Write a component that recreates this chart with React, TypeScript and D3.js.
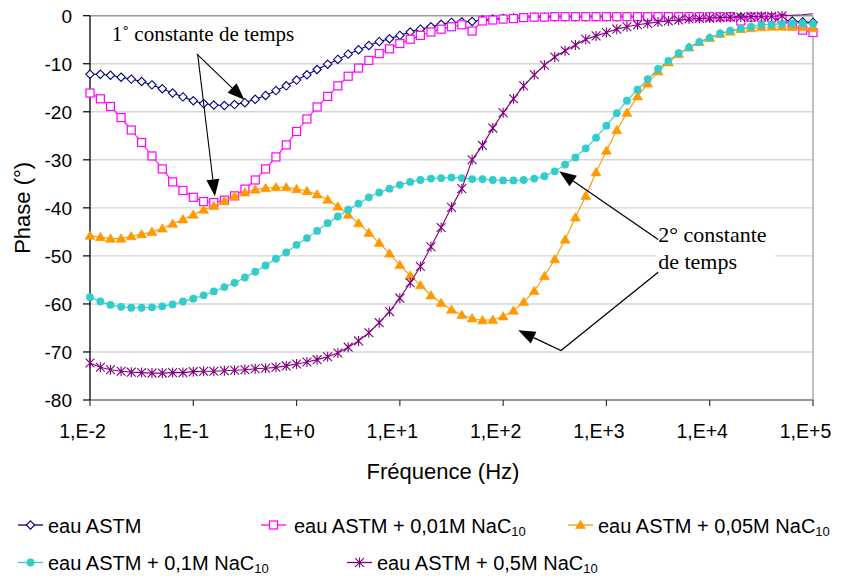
import React from 'react';
import * as d3 from 'd3';

const W = 841;
const H = 576;

const frequencies = [
  0.01, 0.0126, 0.0158, 0.02, 0.0251, 0.0316, 0.0398, 0.0501, 0.0631, 0.0794,
  0.1, 0.126, 0.158, 0.2, 0.251, 0.316, 0.398, 0.501, 0.631, 0.794,
  1, 1.26, 1.58, 2, 2.51, 3.16, 3.98, 5.01, 6.31, 7.94,
  10, 12.6, 15.8, 20, 25.1, 31.6, 39.8, 50.1, 63.1, 79.4,
  100, 126, 158, 200, 251, 316, 398, 501, 631, 794,
  1000, 1260, 1580, 2000, 2510, 3160, 3980, 5010, 6310, 7940,
  10000, 12600, 15800, 20000, 25100, 31600, 39800, 50100, 63100, 79400,
  100000,
];

const phaseAstm = [
  -12.2, -12.2, -12.4, -12.8, -13.2, -13.7, -14.4, -15.2, -16.1, -16.9,
  -17.7, -18.3, -18.6, -18.7, -18.5, -18.1, -17.4, -16.6, -15.6, -14.6,
  -13.4, -12.3, -11.2, -10.1, -9.1, -8.0, -7.1, -6.2, -5.4, -4.8,
  -4.1, -3.4, -2.8, -2.3, -1.8, -1.4, -1.3, -1.2, -0.9, -0.7,
  -0.6, -0.5, -0.4, -0.3, -0.3, -0.2, -0.2, -0.2, -0.2, -0.2,
  -0.2, -0.2, -0.2, -0.2, -0.2, -0.2, -0.2, -0.2, -0.2, -0.2,
  -0.2, -0.2, -0.2, -0.3, -0.4, -0.5, -0.7, -0.9, -1.1, -1.3,
  -1.4,
];

const phase001 = [
  -16.1, -17.3, -18.9, -21.2, -23.8, -26.4, -29.2, -31.9, -34.6, -36.4,
  -37.8, -38.7, -38.9, -38.4, -37.5, -36.1, -34.2, -31.9, -29.4, -26.9,
  -24.1, -21.5, -19.0, -16.8, -14.6, -12.6, -10.9, -9.3, -7.9, -6.9,
  -5.8, -4.9, -4.1, -3.4, -2.8, -2.3, -1.9, -3.2, -1.1, -0.9,
  -0.7, -0.6, -0.4, -0.3, -0.3, -0.2, -0.2, -0.2, -0.2, -0.2,
  -0.2, -0.2, -0.2, -0.2, -0.2, -0.2, -0.2, -0.2, -0.2, -0.2,
  -0.2, -0.2, -0.2, -1.1, -0.3, -0.3, -0.4, -0.6, -2.1, -3.0,
  -3.5,
];

const phase005 = [
  -45.8, -46.1, -46.4, -46.4, -45.9, -45.5, -45.0, -44.3, -43.3, -42.4,
  -41.4, -40.4, -39.6, -38.6, -37.6, -36.8, -36.2, -35.9, -35.7, -35.7,
  -36.1, -36.5, -37.2, -38.3, -39.7, -41.4, -43.2, -45.2, -47.3, -49.5,
  -51.9, -54.1, -56.1, -58.2, -59.8, -61.2, -62.3, -63.0, -63.4, -63.3,
  -62.6, -61.4, -59.6, -57.3, -54.2, -50.7, -46.6, -42.0, -37.5, -32.6,
  -28.1, -23.8, -20.2, -16.8, -14.1, -11.6, -9.7, -8.0, -6.6, -5.5,
  -4.6, -3.8, -3.3, -2.8, -2.6, -2.4, -2.3, -2.3, -2.3, -2.4,
  -2.6,
];

const phase01 = [
  -58.6, -59.5, -60.2, -60.6, -60.8, -60.8, -60.7, -60.5, -60.1, -59.5,
  -58.9, -58.2, -57.4, -56.5, -55.6, -54.5, -53.3, -52.0, -50.6, -49.3,
  -47.7, -46.3, -44.8, -43.2, -41.8, -40.4, -39.1, -37.8, -36.8, -36.0,
  -35.2, -34.6, -34.2, -33.9, -33.8, -33.7, -33.8, -34.0, -34.0, -34.2,
  -34.3, -34.3, -34.2, -33.9, -33.4, -32.4, -31.0, -29.5, -27.6, -25.4,
  -22.9, -20.3, -17.7, -15.4, -13.2, -11.1, -9.4, -7.8, -6.6, -5.5,
  -4.6, -3.7, -3.1, -2.7, -2.3, -1.9, -1.8, -1.7, -1.6, -1.6,
  -1.7,
];

const phase05 = [
  -72.3, -73.2, -73.7, -74.0, -74.2, -74.3, -74.4, -74.4, -74.3, -74.3,
  -74.1, -74.0, -74.0, -73.9, -73.8, -73.7, -73.5, -73.4, -73.2, -72.9,
  -72.5, -72.1, -71.6, -71.0, -70.2, -69.0, -67.7, -66.0, -63.9, -61.6,
  -58.8, -55.6, -52.2, -48.1, -44.1, -39.9, -36.0, -30.0, -27.0, -23.4,
  -20.2, -17.3, -14.6, -12.3, -10.3, -8.6, -7.3, -6.1, -4.9, -4.2,
  -3.5, -2.8, -2.3, -1.9, -1.6, -1.3, -1.1, -0.9, -0.7, -0.6,
  -0.5, -0.4, -0.3, -0.3, -0.2, -0.1, -0.1, 0.0, 0.1, 0.2,
  0.4,
];

const seriesNames = [
  'eau ASTM',
  'eau ASTM + 0,01M NaC',
  'eau ASTM + 0,05M NaC',
  'eau ASTM + 0,1M NaC',
  'eau ASTM + 0,5M NaC',
];
const seriesSubs = ['', '10', '10', '10', '10'];
const seriesColors = ['#000080', '#FF00FF', '#FF9900', '#33CCCC', '#800080'];
const seriesMarkers = ['diamond', 'square', 'triangle', 'circle', 'star'];
const seriesValues = [phaseAstm, phase001, phase005, phase01, phase05];

const xTickValues = [1e-2, 1e-1, 1e0, 1e1, 1e2, 1e3, 1e4, 1e5];
const xTickLabels = ['1,E-2', '1,E-1', '1,E+0', '1,E+1', '1,E+2', '1,E+3', '1,E+4', '1,E+5'];
const yTickValues = [0, -10, -20, -30, -40, -50, -60, -70, -80];
const yTickLabels = ['0', '-10', '-20', '-30', '-40', '-50', '-60', '-70', '-80'];

const SANS = '"Liberation Sans", Arial, sans-serif';
const SERIF = '"Liberation Serif", "Times New Roman", serif';

const x = d3.scaleLog().domain([1e-2, 1e5]).range([90, 813]);
const y = d3.scaleLinear().domain([-80, 0]).range([400, 15.7]);

function Marker({ type, cx, cy, color }: { type: string; cx: number; cy: number; color: string }) {
  if (type === 'diamond') {
    return (
      <path
        d={`M${cx},${cy - 4.2}L${cx + 4.2},${cy}L${cx},${cy + 4.2}L${cx - 4.2},${cy}Z`}
        fill="#fff"
        stroke={color}
        strokeWidth={1.1}
      />
    );
  }
  if (type === 'square') {
    return <rect x={cx - 4} y={cy - 4} width={8} height={8} fill="#fff" stroke={color} strokeWidth={1.2} />;
  }
  if (type === 'triangle') {
    return (
      <path
        d={`M${cx},${cy - 4.8}L${cx + 5},${cy + 3.6}L${cx - 5},${cy + 3.6}Z`}
        fill={color}
        stroke={color}
        strokeWidth={0.6}
      />
    );
  }
  if (type === 'circle') {
    return <circle cx={cx} cy={cy} r={3.9} fill={color} />;
  }
  const r = 4.4;
  return (
    <path
      d={`M${cx - r},${cy - r}L${cx + r},${cy + r}M${cx - r},${cy + r}L${cx + r},${cy - r}M${cx},${cy - r - 0.6}L${cx},${cy + r + 0.6}`}
      stroke={color}
      strokeWidth={1.1}
      fill="none"
    />
  );
}

function arrowPath(x1: number, y1: number, x2: number, y2: number, len = 17, hw = 6.5) {
  const dx = x2 - x1;
  const dy = y2 - y1;
  const d = Math.hypot(dx, dy);
  const ux = dx / d;
  const uy = dy / d;
  const bx = x2 - ux * len;
  const by = y2 - uy * len;
  return {
    head: `M${x2},${y2}L${bx - uy * hw},${by + ux * hw}L${bx + uy * hw},${by - ux * hw}Z`,
    bx,
    by,
  };
}

export default function App() {
  const line = d3
    .line<number>()
    .x((_, i) => x(frequencies[i]))
    .y((d) => y(d));

  // annotation anchors in data space (frequency, phase)
  const a1Start = { x: x(0.108), y: y(-7.96) };
  const a1TipA = { x: x(0.312), y: y(-17.5) };
  const a1TipB = { x: x(0.162), y: y(-37.6) };
  const a1Text = { x: x(0.0162), y: y(-5.2) };

  const a2StartA = { x: x(3170), y: y(-46.6) };
  const a2TipA = { x: x(349), y: y(-32.4) };
  const a2StartB = { x: x(3170), y: y(-53.4) };
  const a2Bend = { x: x(363), y: y(-69.7) };
  const a2TipB = { x: x(140), y: y(-65.5) };
  const a2Text = { x: x(3170), y: y(-47.2) };
  const a2Text2 = { x: x(3170), y: y(-52.7) };

  const arrA = arrowPath(a1Start.x, a1Start.y, a1TipA.x, a1TipA.y);
  const arrB = arrowPath(a1Start.x + 1, a1Start.y + 1, a1TipB.x, a1TipB.y);
  const arrC = arrowPath(a2StartA.x, a2StartA.y, a2TipA.x, a2TipA.y);
  const arrD = arrowPath(a2Bend.x, a2Bend.y, a2TipB.x, a2TipB.y);

  const legendPos = [
    { lx: 18, ly: 525, tx: 48, ty: 533 },
    { lx: 261, ly: 525, tx: 294, ty: 533 },
    { lx: 568, ly: 525, tx: 598, ty: 533 },
    { lx: 18, ly: 562.5, tx: 48, ty: 570 },
    { lx: 347, ly: 562.5, tx: 377, ty: 570 },
  ];

  const [x0, x1] = x.range();
  const [yBottom, yTop] = y.range();

  return (
    <svg
      width={W}
      height={H}
      viewBox={`0 0 ${W} ${H}`}
      style={{ position: 'absolute', left: 0, top: 0, background: '#fff' }}
    >
      <rect x={0} y={0} width={W} height={H} fill="#fff" />
      {/* gridlines */}
      {yTickValues.map((v) =>
        v === 0 || v === -80 ? null : (
          <line key={v} x1={x0} x2={x1} y1={y(v)} y2={y(v)} stroke="#d6d6d6" strokeWidth={1.4} />
        )
      )}
      {/* plot border top/right */}
      <line x1={x0} x2={x1} y1={yTop} y2={yTop} stroke="#9a9a9a" strokeWidth={1.4} />
      <line x1={x1} x2={x1} y1={yTop} y2={yBottom} stroke="#b0b0b0" strokeWidth={1.6} />

      {/* white box behind second annotation */}
      <rect x={a2Text.x - 2} y={a2Text.y - 19} width={119} height={a2Text2.y - a2Text.y + 27} fill="#fff" />

      {/* axes */}
      <line x1={x0} x2={x1} y1={yBottom} y2={yBottom} stroke="#777" strokeWidth={1.3} />
      <line x1={x0} x2={x0} y1={yTop} y2={yBottom} stroke="#000" strokeWidth={1.3} />
      {yTickValues.map((v) => (
        <line key={'yt' + v} x1={x0 - 7} x2={x0} y1={y(v)} y2={y(v)} stroke="#000" strokeWidth={1.2} />
      ))}
      {xTickValues.map((v) => (
        <line key={'xt' + v} x1={x(v)} x2={x(v)} y1={yBottom} y2={yBottom + 6} stroke="#333" strokeWidth={1.2} />
      ))}
      {yTickValues.map((v, i) => (
        <text
          key={'yl' + v}
          x={72}
          y={y(v)}
          dy="0.36em"
          textAnchor="end"
          fontFamily={SANS}
          fontSize={19}
          fill="#000"
        >
          {yTickLabels[i]}
        </text>
      ))}
      {xTickValues.map((v, i) => (
        <text
          key={'xl' + v}
          x={x(v) - 7.5}
          y={437.5}
          textAnchor="middle"
          fontFamily={SANS}
          fontSize={19.5}
          fill="#000"
        >
          {xTickLabels[i]}
        </text>
      ))}
      <text x={443} y={479} textAnchor="middle" fontFamily={SANS} fontSize={22} fill="#000">
        Fréquence (Hz)
      </text>
      <text
        transform={`translate(29.5,${(yTop + yBottom) / 2}) rotate(-90)`}
        textAnchor="middle"
        fontFamily={SANS}
        fontSize={22}
        fill="#000"
      >
        Phase (°)
      </text>

      {/* series */}
      {seriesValues.map((vals, s) => (
        <g key={'s' + s}>
          <path d={line(vals) || ''} fill="none" stroke={seriesColors[s]} strokeWidth={1.1} />
          {vals.map((v, i) =>
            v > 0 ? null : (
              <Marker key={i} type={seriesMarkers[s]} cx={x(frequencies[i])} cy={y(v)} color={seriesColors[s]} />
            )
          )}
        </g>
      ))}

      {/* annotation 1 */}
      <text x={a1Text.x} y={a1Text.y} fontFamily={SERIF} fontSize={21} fill="#000">
        1˚ constante de temps
      </text>
      <line x1={a1Start.x} y1={a1Start.y} x2={arrA.bx} y2={arrA.by} stroke="#000" strokeWidth={1.1} />
      <path d={arrA.head} fill="#000" />
      <line x1={a1Start.x + 1} y1={a1Start.y + 1} x2={arrB.bx} y2={arrB.by} stroke="#000" strokeWidth={1.1} />
      <path d={arrB.head} fill="#000" />

      {/* annotation 2 */}
      <text x={a2Text.x} y={a2Text.y} fontFamily={SERIF} fontSize={22} fill="#000">
        2° constante
      </text>
      <text x={a2Text2.x} y={a2Text2.y} fontFamily={SERIF} fontSize={22} fill="#000">
        de temps
      </text>
      <line x1={a2StartA.x} y1={a2StartA.y} x2={arrC.bx} y2={arrC.by} stroke="#000" strokeWidth={1.3} />
      <path d={arrC.head} fill="#000" />
      <polyline
        points={`${a2StartB.x},${a2StartB.y} ${a2Bend.x},${a2Bend.y} ${arrD.bx},${arrD.by}`}
        fill="none"
        stroke="#000"
        strokeWidth={1.3}
      />
      <path d={arrD.head} fill="#000" />

      {/* legend */}
      {legendPos.map((p, s) => (
        <g key={'lg' + s}>
          <line x1={p.lx} x2={p.lx + 25} y1={p.ly} y2={p.ly} stroke={seriesColors[s]} strokeWidth={1.3} />
          <Marker type={seriesMarkers[s]} cx={p.lx + 12.5} cy={p.ly} color={seriesColors[s]} />
          <text x={p.tx} y={p.ty} fontFamily={SANS} fontSize={20} fill="#000">
            {seriesNames[s]}
            {seriesSubs[s] ? (
              <tspan fontSize={13} dy={3}>
                {seriesSubs[s]}
              </tspan>
            ) : null}
          </text>
        </g>
      ))}
    </svg>
  );
}
